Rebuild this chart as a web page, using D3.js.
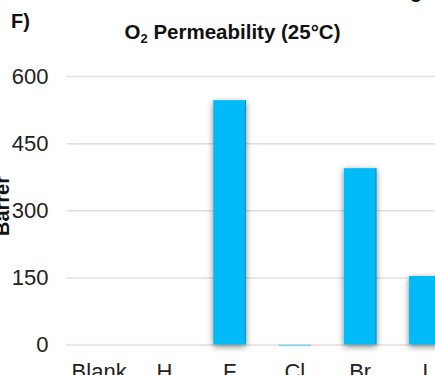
<!DOCTYPE html>
<html>
<head>
<meta charset="utf-8">
<script src="https://cdn.jsdelivr.net/npm/d3@7"></script>
<style>
  html, body { margin: 0; padding: 0; background: #fff; }
  svg { display: block; font-family: "Liberation Sans", Arial, sans-serif; }
</style>
</head>
<body>
<svg id="chart" width="435" height="375"></svg>
<script>
// O2 permeability (Barrer) by substituent
const categories = ["Blank", "H", "F", "Cl", "Br", "I"];
const permeability = [0, 0, 546, -4, 394, 153];
const yTicks = [0, 150, 300, 450, 600];

const W = 435, H = 375;
const plotLeft = 66.5, plotTop = 76, plotBottom = 344.5;
const step = 65.25;

const svg = d3.select("#chart");

// soft grey shadow around each bar
const defs = svg.append("defs");
const f = defs.append("filter").attr("id", "barShadow")
  .attr("x", "-50%").attr("y", "-10%").attr("width", "200%").attr("height", "130%");
f.append("feGaussianBlur").attr("in", "SourceAlpha").attr("stdDeviation", 3).attr("result", "blur");
f.append("feOffset").attr("in", "blur").attr("dy", 2).attr("result", "off");
f.append("feComponentTransfer").attr("in", "off").attr("result", "shadow")
  .append("feFuncA").attr("type", "linear").attr("slope", 0.5);
const merge = f.append("feMerge");
merge.append("feMergeNode").attr("in", "shadow");
merge.append("feMergeNode").attr("in", "SourceGraphic");

const x = d3.scaleBand()
  .domain(categories)
  .range([plotLeft, plotLeft + step * categories.length])
  .paddingInner(0.5)
  .paddingOuter(0.25);

const y = d3.scaleLinear().domain([0, 600]).range([plotBottom, plotTop]);

// value axis with gridlines
const yAxis = svg.append("g")
  .attr("transform", `translate(${plotLeft},0)`)
  .call(d3.axisLeft(y).tickValues(yTicks).tickSize(-(W - plotLeft + 20)).tickPadding(18));
yAxis.select(".domain").remove();
yAxis.selectAll(".tick line").attr("stroke", "#e6dcd9").attr("stroke-width", 1.5);
yAxis.selectAll(".tick text")
  .attr("font-size", 22).attr("fill", "#222").attr("font-family", "Liberation Sans, Arial, sans-serif");

// bars
const data = categories.map((c, i) => ({ c, v: permeability[i] }));
const bars = svg.append("g");
bars.selectAll("rect.bar")
  .data(data.filter(d => d.v > 0))
  .join("rect")
  .attr("class", "bar")
  .attr("x", d => x(d.c))
  .attr("width", x.bandwidth())
  .attr("y", d => y(d.v))
  .attr("height", d => y(0) - y(d.v))
  .attr("fill", "#00b9f7")
  .attr("filter", "url(#barShadow)");
// darker right edge
bars.selectAll("line.edge")
  .data(data.filter(d => d.v > 0))
  .join("line")
  .attr("class", "edge")
  .attr("x1", d => x(d.c) + x.bandwidth() - 0.5)
  .attr("x2", d => x(d.c) + x.bandwidth() - 0.5)
  .attr("y1", d => y(d.v))
  .attr("y2", y(0))
  .attr("stroke", "#0a96c8").attr("stroke-width", 1);
// small negative value
bars.selectAll("rect.neg")
  .data(data.filter(d => d.v < 0))
  .join("rect")
  .attr("class", "neg")
  .attr("x", d => x(d.c))
  .attr("width", x.bandwidth())
  .attr("y", y(0))
  .attr("height", d => y(d.v) - y(0))
  .attr("fill", "#00b9f7")
  .attr("opacity", 0.4);

// category axis
const xAxis = svg.append("g")
  .attr("transform", `translate(0,${plotBottom})`)
  .call(d3.axisBottom(x).tickSize(0).tickPadding(0));
xAxis.select(".domain").remove();
xAxis.selectAll(".tick text")
  .attr("y", 34).attr("dy", 0)
  .attr("font-size", 22).attr("fill", "#222").attr("font-family", "Liberation Sans, Arial, sans-serif");

// axis title
svg.append("text")
  .attr("transform", "translate(9,206) rotate(-90)")
  .attr("text-anchor", "middle")
  .attr("font-size", 20).attr("font-weight", "bold").attr("fill", "#111")
  .text("Barrer");

// chart title
const title = svg.append("text")
  .attr("x", 232.5).attr("y", 39)
  .attr("text-anchor", "middle")
  .attr("font-size", 20.5).attr("font-weight", "bold").attr("fill", "#111");
title.append("tspan").text("O");
title.append("tspan").attr("font-size", 13).attr("dy", 4).text("2");
title.append("tspan").attr("dy", -4).text(" Permeability (25°C)");

// panel letter
svg.append("text")
  .attr("x", 11).attr("y", 28)
  .attr("font-size", 20).attr("font-weight", "bold").attr("fill", "#111")
  .text("F)");

// tail of neighbouring heading
svg.append("text")
  .attr("x", 410).attr("y", -2)
  .attr("font-size", 20).attr("font-weight", "bold").attr("fill", "#111")
  .text("g");
</script>
</body>
</html>
